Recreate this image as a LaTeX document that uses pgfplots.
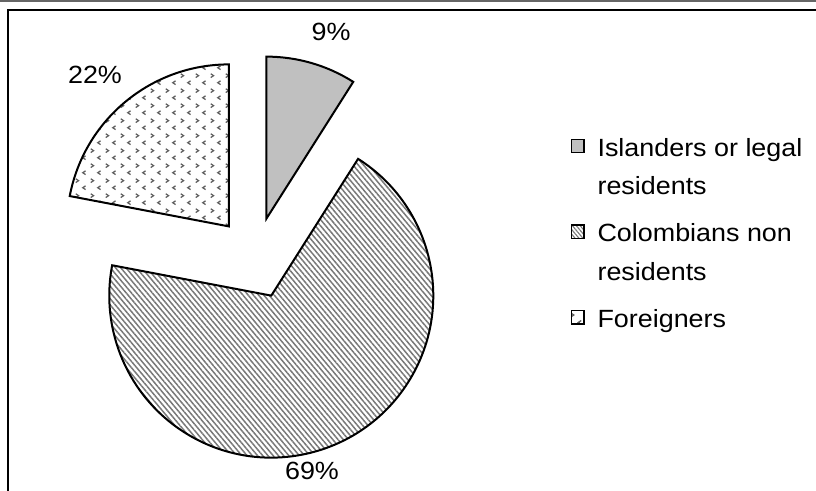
\documentclass[border=0pt]{standalone}
\usepackage{pgfplots}
\pgfplotsset{compat=1.18}
\usepackage{pgfplotstable}
\usepackage{fontspec}
\setmainfont[FakeStretch=1.08]{Liberation Sans}
\usetikzlibrary{patterns,patterns.meta}

% Visitor shares (percent), clockwise from 12 o'clock
\pgfplotstableread{
group share
Islanders 9
Colombians 69
Foreigners 22
}\sharetable

\definecolor{slicegray}{RGB}{192,192,192}
\definecolor{hatchgray}{RGB}{120,120,120}
\definecolor{dotgray}{RGB}{95,95,95}

% small chevron texture for the foreigners slice
\tikzdeclarepattern{
  name=chevrons,
  type=uncolored,
  bottom left={(0bp,0bp)},
  top right={(15bp,15bp)},
  tile size={(15bp,15bp)},
  code={
    \draw[line width=1.3bp] (0.8bp,9bp) -- (3.8bp,11bp) -- (0.8bp,13bp);
    \draw[line width=1.3bp] (11.2bp,1.5bp) -- (8.2bp,3.5bp) -- (11.2bp,5.5bp);
  }
}

\pgfplotstablegetelem{0}{share}\of\sharetable \let\sA\pgfplotsretval
\pgfplotstablegetelem{1}{share}\of\sharetable \let\sB\pgfplotsretval
\pgfplotstablegetelem{2}{share}\of\sharetable \let\sC\pgfplotsretval

% pie centre, radius and explosion offset (axis units = bp)
\def\cx{255}\def\cy{233}\def\R{162}\def\off{41}

\pgfmathsetmacro\aA{90}
\pgfmathsetmacro\bA{\aA-3.6*\sA}
\pgfmathsetmacro\mA{(\aA+\bA)/2}
\pgfmathsetmacro\aB{\bA}
\pgfmathsetmacro\bB{\aB-3.6*\sB}
\pgfmathsetmacro\mB{(\aB+\bB)/2}
\pgfmathsetmacro\aC{\bB}
\pgfmathsetmacro\bC{\aC-3.6*\sC}
\pgfmathsetmacro\mC{(\aC+\bC)/2}
\pgfmathsetmacro\pAx{\cx+\off*cos(\mA)}\pgfmathsetmacro\pAy{\cy+\off*sin(\mA)}
\pgfmathsetmacro\pBx{\cx+\off*cos(\mB)}\pgfmathsetmacro\pBy{\cy+\off*sin(\mB)}
\pgfmathsetmacro\pCx{\cx+\off*cos(\mC)}\pgfmathsetmacro\pCy{\cy+\off*sin(\mC)}
\pgfmathtruncatemacro\lA{\sA}
\pgfmathtruncatemacro\lB{\sB}
\pgfmathtruncatemacro\lC{\sC}

% struts fixing the legend line heights
\newcommand\lstrut{\rule[-7bp]{0pt}{25bp}}
\newcommand\tstrut{\rule[-7bp]{0pt}{33.5bp}}

\begin{document}
\begin{tikzpicture}
\begin{axis}[
  hide axis, scale only axis,
  x=1bp, y=1bp,
  xmin=0, xmax=816, ymin=0, ymax=491,
  clip=false,
  legend style={draw=none, fill=none, inner sep=0pt, outer sep=0pt,
    at={(axis cs:571,353)}, anchor=north west,
    font=\fontsize{25}{37}\selectfont, row sep=19bp,
    nodes={inner sep=0pt, outer sep=0pt}},
  legend cell align=left,
  legend image code/.code={%
    \draw[line width=1.4bp, #1] (0.7bp,-5bp) rectangle (12.8bp,8.5bp);
    \path (26bp,0bp);},
]
% outer frame
\draw[line width=2bp] (axis cs:8,0) -- (axis cs:8,481) -- (axis cs:816,481);
\draw[line width=2bp, black!60] (axis cs:0,490) -- (axis cs:816,490);

% slices
\draw[line width=2bp, fill=slicegray]
  (axis cs:\pAx,\pAy) -- ++(\aA:\R bp) arc[start angle=\aA, end angle=\bA, radius=\R bp] -- cycle;
\draw[line width=2bp, pattern={Lines[angle=-50, distance=4bp, line width=1.5bp]}, pattern color=hatchgray]
  (axis cs:\pBx,\pBy) -- ++(\aB:\R bp) arc[start angle=\aB, end angle=\bB, radius=\R bp] -- cycle;
\draw[line width=2bp, pattern=chevrons, pattern color=dotgray]
  (axis cs:\pCx,\pCy) -- ++(\aC:\R bp) arc[start angle=\aC, end angle=\bC, radius=\R bp] -- cycle;

% data labels
\node[font=\fontsize{25}{30}\selectfont] at (axis cs:331,459) {\lA\%};
\node[font=\fontsize{25}{30}\selectfont] at (axis cs:312,20) {\lB\%};
\node[font=\fontsize{25}{30}\selectfont] at (axis cs:95,416) {\lC\%};

\addlegendimage{fill=slicegray}
\addlegendentry{\lstrut Islanders or legal}
\addlegendimage{empty legend}
\addlegendentry{\lstrut residents}
\addlegendimage{yshift=-4.25bp, pattern={Lines[angle=-50, distance=3bp, line width=1.1bp]}, pattern color=hatchgray}
\addlegendentry{\tstrut Colombians non}
\addlegendimage{empty legend}
\addlegendentry{\lstrut residents}
\addlegendimage{yshift=-4.25bp, pattern=chevrons, pattern color=dotgray}
\addlegendentry{\tstrut Foreigners}
\end{axis}
\pgfresetboundingbox
\path[use as bounding box] (0,0) rectangle (816bp,491bp);
\end{tikzpicture}
\end{document}
